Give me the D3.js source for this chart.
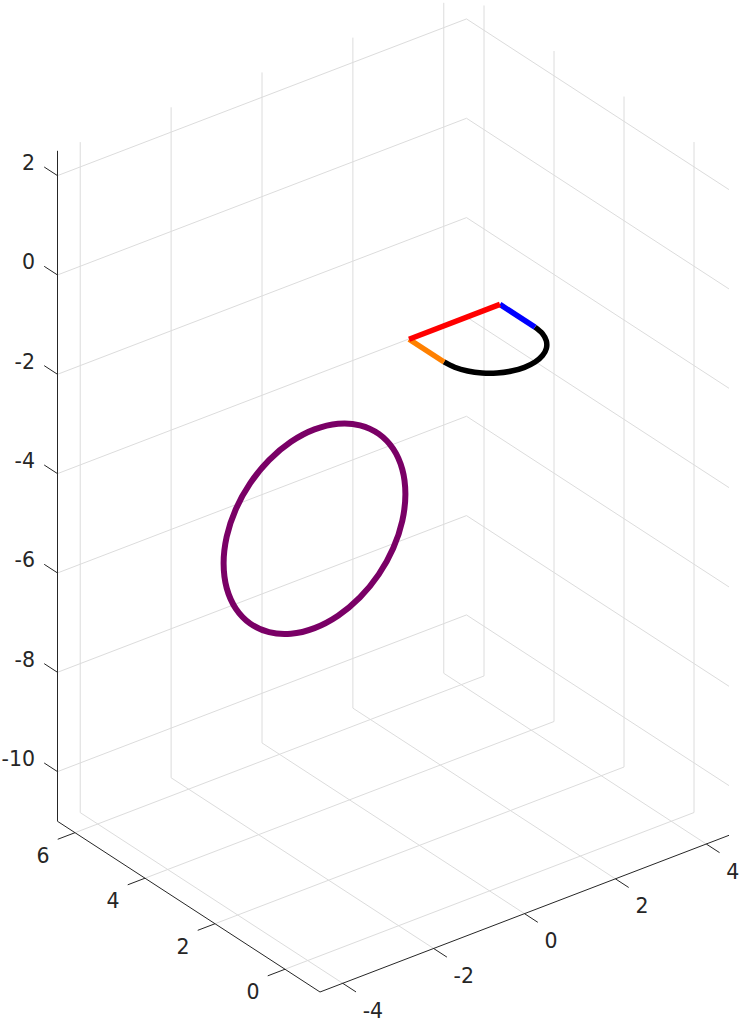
<!DOCTYPE html>
<html>
<head>
<meta charset="utf-8">
<style>html,body{margin:0;padding:0;background:#fff}svg{display:block}</style>
<script src="https://cdn.jsdelivr.net/npm/d3@7"></script>
</head>
<body>
<div id="chart"></div>
<script>
const xDomain = [-4.5, 4.5], yDomain = [-1, 6.5], zDomain = [-11, 2.5];
const xTicks = [-4, -2, 0, 2, 4];
const yTicks = [0, 2, 4, 6];
const zTicks = [2, 0, -2, -4, -6, -8, -10];

const redX = [1, -1], redY = [1, 1], redZ = [0, 0];
const blueX = [1, 1], blueY = [1, 0], blueZ = [0, 0];
const orangeX = [-1, -1], orangeY = [1, 0], orangeZ = [0, 0];
const arcX = [1, 0.966, 0.866, 0.707, 0.5, 0.259, 0, -0.259, -0.5, -0.707, -0.866, -0.966, -1];
const arcY = [0, -0.259, -0.5, -0.707, -0.866, -0.966, -1, -0.966, -0.866, -0.707, -0.5, -0.259, 0];
const arcZ = [0, 0, 0, 0, 0, 0, 0, 0, 0, 0, 0, 0, 0];
const ringX = [2, 1.932, 1.732, 1.414, 1, 0.518, 0, -0.518, -1, -1.414, -1.732, -1.932, -2, -1.932, -1.732, -1.414, -1, -0.518, 0, 0.518, 1, 1.414, 1.732, 1.932];
const ringY = [5, 5, 5, 5, 5, 5, 5, 5, 5, 5, 5, 5, 5, 5, 5, 5, 5, 5, 5, 5, 5, 5, 5, 5];
const ringZ = [-6, -5.482, -5, -4.586, -4.268, -4.068, -4, -4.068, -4.268, -4.586, -5, -5.482, -6, -6.518, -7, -7.414, -7.732, -7.932, -8, -7.932, -7.732, -7.414, -7, -6.518];

const W = 741, H = 1019, ox = 320, oy = 992;
const xToH = d3.scaleLinear().domain(xDomain).range([0, 409]);
const yToH = d3.scaleLinear().domain(yDomain).range([0, -262.5]);
const xToV = d3.scaleLinear().domain(xDomain).range([0, -156.7]);
const yToV = d3.scaleLinear().domain(yDomain).range([0, -170.7]);
const zToV = d3.scaleLinear().domain(zDomain).range([0, -670.5]);
const project = ([x, y, z]) => [ox + xToH(x) + yToH(y), oy + xToV(x) + yToV(y) + zToV(z)];

const svg = d3.select("#chart").append("svg").attr("width", W).attr("height", H).attr("viewBox", [0, 0, W, H]);
const [x0, x1] = xDomain, [y0, y1] = yDomain, [z0, z1] = zDomain;
const poly = d3.line().x(d => project(d)[0]).y(d => project(d)[1]);
const segs = (g, data, color, width) => g.selectAll(null).data(data).join("path")
  .attr("d", poly).attr("fill", "none").attr("stroke", color).attr("stroke-width", width);

// grid
const grid = svg.append("g");
const gridLines = [
  ...xTicks.map(x => [[x, y0, z0], [x, y1, z0], [x, y1, z1]]),
  ...yTicks.map(y => [[x0, y, z0], [x1, y, z0], [x1, y, z1]]),
  ...zTicks.map(z => [[x0, y1, z], [x1, y1, z], [x1, y0, z]])
];
segs(grid, gridLines, "#dcdcdc", 1);

// axes
const axes = svg.append("g");
const axisColor = "#262626";
segs(axes, [[[x0, y0, z0], [x1, y0, z0]], [[x0, y0, z0], [x0, y1, z0]], [[x0, y1, z0], [x0, y1, z1]]], axisColor, 1);
const tickLen = 0.38;
segs(axes, xTicks.map(x => [[x, y0, z0], [x, y0 - tickLen, z0]]), axisColor, 1);
segs(axes, yTicks.map(y => [[x0, y, z0], [x0 - tickLen, y, z0]]), axisColor, 1);
segs(axes, zTicks.map(z => [[x0, y1, z], [x0, y1 + tickLen, z]]), axisColor, 1);

// labels
const labels = svg.append("g").attr("font-family", "'DejaVu Sans', sans-serif").attr("font-size", 20.5).attr("fill", axisColor);
const fmt = d => String(d);
labels.selectAll(null).data(xTicks).join("text").attr("text-anchor", "start")
  .attr("x", d => project([d, y0, z0])[0] + 20).attr("y", d => project([d, y0, z0])[1] + 34.5).text(fmt);
labels.selectAll(null).data(yTicks).join("text").attr("text-anchor", "middle")
  .attr("x", d => project([x0, d, z0])[0] - 32).attr("y", d => project([x0, d, z0])[1] + 30).text(fmt);
labels.selectAll(null).data(zTicks).join("text").attr("text-anchor", "end")
  .attr("x", 35).attr("y", d => project([x0, y1, d])[1] - 5.5).text(fmt);

// data
const pts = (xs, ys, zs) => xs.map((x, i) => [x, ys[i], zs[i]]);
const marks = svg.append("g").attr("fill", "none");
const curve = d3.line().x(d => project(d)[0]).y(d => project(d)[1]);
marks.append("path").attr("d", curve.curve(d3.curveCatmullRomClosed.alpha(0.5))(pts(ringX, ringY, ringZ)))
  .attr("stroke", "#7a0066").attr("stroke-width", 6);
marks.append("path").attr("d", curve.curve(d3.curveCatmullRom.alpha(0.5))(pts(arcX, arcY, arcZ)))
  .attr("stroke", "#000000").attr("stroke-width", 5.5);
const straight = d3.line().x(d => project(d)[0]).y(d => project(d)[1]);
marks.append("path").attr("d", straight(pts(orangeX, orangeY, orangeZ))).attr("stroke", "#ff8000").attr("stroke-width", 5.5);
marks.append("path").attr("d", straight(pts(blueX, blueY, blueZ))).attr("stroke", "#0000ff").attr("stroke-width", 5.5);
marks.append("path").attr("d", straight(pts(redX, redY, redZ))).attr("stroke", "#ff0000").attr("stroke-width", 5.5);
</script>
</body>
</html>
